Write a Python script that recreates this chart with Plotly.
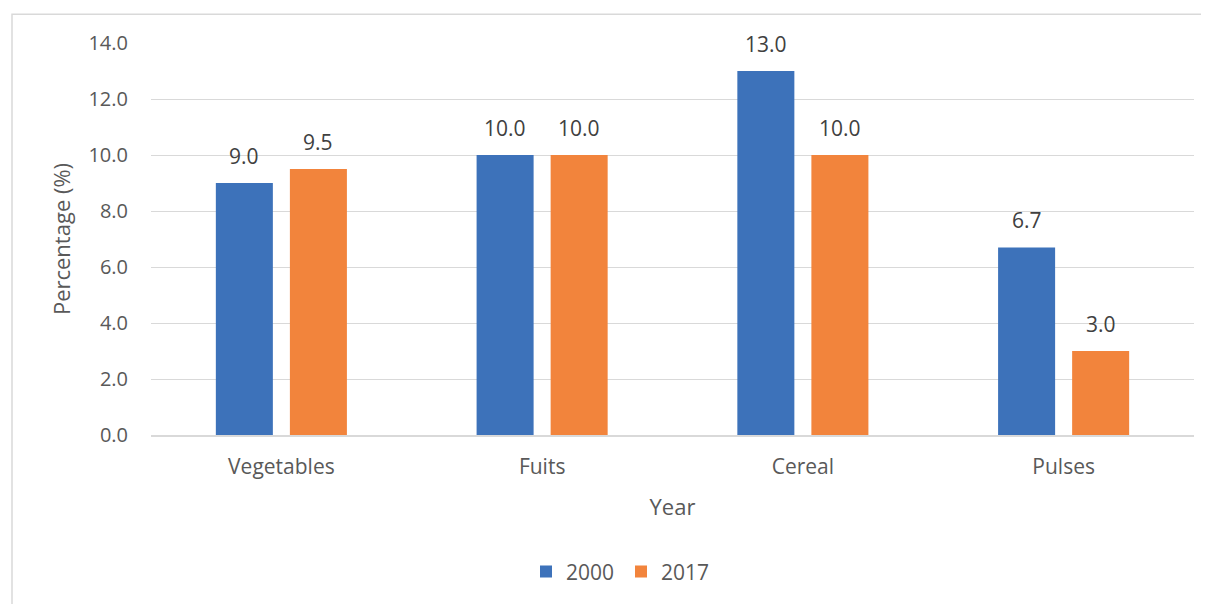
import plotly.graph_objects as go

categories = ["Vegetables", "Fuits", "Cereal", "Pulses"]
series_names = ["2000", "2017"]
values_2000 = [9.0, 10.0, 13.0, 6.7]
values_2017 = [9.5, 10.0, 10.0, 3.0]
y_ticks = [0, 2, 4, 6, 8, 10, 12, 14]

colors = ["#3D72BA", "#F2843C"]
FONT = "Open Sans"
TXT = "#595959"

fig = go.Figure()
for name, vals, col in zip(series_names, [values_2000, values_2017], colors):
    fig.add_trace(go.Bar(x=categories, y=vals, name=name, marker=dict(color=col, line=dict(width=0))))

# data labels
for vals, shift in zip([values_2000, values_2017], [-37, 37]):
    for c, v in zip(categories, vals):
        fig.add_annotation(x=c, y=v, text=f"{v:.1f}", showarrow=False, xshift=shift,
                           yanchor="bottom", yshift=11,
                           font=dict(family=FONT, size=21, color="#404040"))

# page body has an 8px margin; compensate
W, H = 1201, 596
l, r, t, b = 143, 15, 35, 166
pw, ph = W - l - r, H - t - b
fig.add_shape(type="rect", xref="paper", yref="paper",
              x0=(4 - l) / pw, x1=(W + 10 - l) / pw,
              y0=(t + ph - (H + 10)) / ph, y1=1 + (t - 6) / ph,
              line=dict(color="#D9D9D9", width=1.5), layer="below")

fig.update_layout(
    width=W, height=H,
    margin=dict(l=l, r=r, t=t, b=b),
    paper_bgcolor="white", plot_bgcolor="white",
    barmode="group", bargap=0.432, bargroupgap=0.23,
    font=dict(family=FONT, size=20, color=TXT),
    legend=dict(orientation="h", x=(621 - 151) / pw, xanchor="center",
                y=(ph - 533) / ph, yanchor="middle",
                font=dict(size=21, color=TXT), itemwidth=30,
                entrywidth=50, entrywidthmode="pixels"),
    showlegend=True,
)
fig.update_xaxes(showgrid=False, showline=True, linecolor="#D9D9D9", linewidth=1.5,
                 ticks="", tickfont=dict(size=21, color=TXT), ticklabelstandoff=12,
                 title=dict(text="Year", font=dict(size=22, color=TXT), standoff=21))
fig.update_yaxes(range=[0, 14], tickvals=y_ticks, tickformat=".1f",
                 showgrid=True, gridcolor="#D9D9D9", gridwidth=1, zeroline=False,
                 ticks="", tickfont=dict(size=20, color=TXT), ticklabelstandoff=22,
                 title=dict(text="Percentage (%)", font=dict(size=22, color=TXT), standoff=11))

fig.write_html("out.html")
